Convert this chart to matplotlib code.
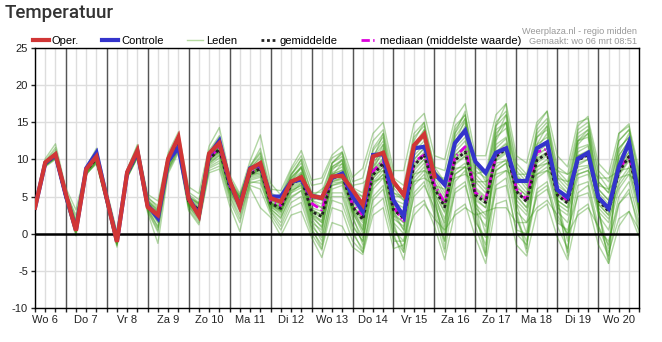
import matplotlib
matplotlib.use("Agg")
import matplotlib.pyplot as plt
import numpy as np
from matplotlib.lines import Line2D

plt.rcParams['font.family'] = ['Liberation Sans', 'DejaVu Sans']
plt.rcParams['axes.unicode_minus'] = False

# 6-hourly values, starting wo 6 mrt 06:00
day_labels = ["Wo 6", "Do 7", "Vr 8", "Za 9", "Zo 10", "Ma 11", "Di 12", "Wo 13",
              "Do 14", "Vr 15", "Za 16", "Zo 17", "Ma 18", "Di 19", "Wo 20"]

oper = [3.5, 9.6, 10.7, 5.4, 0.4, 8.7, 10.4, 4.8, -1.1, 8.3, 11.2, 3.6,
        2.5, 10.1, 13.0, 4.7, 2.4, 10.8, 12.2, 7.2, 3.6, 8.7, 9.5, 4.8,
        4.3, 7.0, 7.6, 5.1, 4.8, 7.7, 7.8, 5.9, 3.9, 10.4, 10.9, 7.0,
        5.2, 11.9, 13.4, 7.7]

controle = [3.5, 9.5, 10.6, 5.2, 0.5, 8.8, 10.9, 4.8, -1.0, 8.2, 11.0, 3.8,
            2.1, 9.8, 11.6, 4.8, 2.5, 10.6, 12.5, 7.0, 3.7, 8.8, 9.3, 5.0,
            5.0, 7.0, 7.3, 5.1, 4.8, 7.5, 8.1, 5.0, 3.0, 10.6, 10.7, 4.5,
            2.3, 11.5, 11.7, 8.1, 6.6, 12.2, 13.9, 9.7, 8.2, 10.9, 11.5, 7.1,
            7.1, 11.5, 12.3, 5.9, 4.9, 10.1, 10.9, 4.9, 3.4, 9.0, 12.3, 4.5]

gemiddelde = [3.6, 9.4, 10.5, 5.0, 0.8, 8.5, 10.1, 4.6, -0.8, 8.0, 10.8, 3.9,
              2.3, 9.5, 12.0, 4.3, 3.2, 10.0, 11.4, 6.3, 4.2, 8.0, 8.8, 4.1,
              3.4, 6.6, 7.5, 3.0, 2.3, 7.5, 7.9, 3.6, 1.9, 7.9, 9.5, 3.2,
              2.1, 9.2, 10.6, 6.1, 3.6, 9.9, 11.0, 5.2, 4.2, 10.4, 11.4, 5.7,
              4.3, 9.9, 10.8, 5.2, 4.1, 9.9, 10.6, 4.5, 3.0, 8.3, 10.4, 4.5]

mediaan = [3.7, 9.5, 10.6, 5.1, 0.7, 8.6, 10.2, 4.6, -0.9, 8.1, 10.9, 3.9,
           2.5, 9.6, 12.1, 4.5, 3.0, 10.2, 11.6, 6.5, 4.0, 8.2, 9.0, 4.3,
           3.8, 6.8, 7.6, 4.1, 3.2, 7.6, 8.0, 3.9, 2.5, 8.4, 9.8, 3.6,
           1.6, 9.7, 10.6, 6.6, 4.1, 10.3, 11.7, 5.5, 4.6, 10.5, 11.8, 6.0,
           4.6, 11.0, 11.4, 5.5, 4.5, 10.0, 10.8, 4.9, 3.4, 8.8, 10.4, 5.3]

# ensemble members (leden)
lid_01 = [3.4, 9.3, 10.8, 5.3, 1.2, 8.6, 10.3, 4.4, -1.0, 7.9, 10.6, 4.2,
          2.0, 9.3, 12.2, 4.5, 3.5, 10.2, 11.8, 6.5, 4.4, 8.2, 9.3, 4.5,
          4.0, 7.2, 8.3, 4.0, 3.5, 8.2, 9.0, 4.8, 3.0, 9.0, 10.8, 4.2,
          3.5, 10.5, 12.0, 7.0, 4.5, 11.0, 12.5, 6.2, 5.0, 11.5, 12.8, 6.5,
          5.0, 11.0, 12.0, 6.0, 5.0, 11.0, 11.8, 5.5, 4.0, 9.5, 11.5, 5.5]
lid_02 = [3.8, 9.6, 10.4, 4.8, 0.2, 8.3, 9.8, 4.9, -0.5, 8.2, 11.2, 3.6,
          3.1, 10.0, 12.6, 4.0, 2.6, 9.6, 10.8, 5.8, 3.5, 7.6, 8.0, 3.6,
          2.8, 5.5, 6.2, 1.5, 0.5, 6.8, 7.0, 2.0, -0.5, 7.0, 8.5, 1.5,
          0.0, 8.0, 9.5, 4.5, 1.5, 8.5, 9.5, 3.5, 2.0, 9.0, 10.0, 4.0,
          2.5, 8.5, 9.5, 3.5, 2.5, 8.5, 9.0, 3.0, 1.5, 7.0, 9.0, 3.0]
lid_03 = [3.5, 9.2, 10.2, 5.6, 2.5, 8.8, 10.9, 5.2, -0.2, 8.4, 11.5, 4.8,
          3.8, 10.6, 13.1, 5.6, 4.6, 11.2, 13.2, 7.2, 5.0, 9.0, 11.5, 6.0,
          5.8, 8.8, 11.2, 7.2, 7.5, 10.6, 11.8, 7.6, 8.8, 13.5, 15.0, 8.5,
          8.5, 14.8, 16.2, 10.5, 10.0, 15.5, 17.5, 10.5, 10.5, 16.0, 17.5, 10.5,
          9.5, 15.0, 16.5, 10.5, 9.0, 15.0, 15.5, 9.5, 8.0, 13.5, 14.5, 8.5]
lid_04 = [3.9, 9.7, 11.3, 4.6, -0.3, 8.1, 9.4, 4.1, -1.6, 7.6, 10.3, 3.1,
          0.5, 8.6, 11.3, 3.6, 1.8, 8.8, 9.5, 5.2, 2.5, 6.8, 7.2, 3.0,
          1.0, 4.2, 5.0, 0.5, -1.5, 4.5, 4.0, 0.0, -2.0, 4.5, 6.0, 0.0,
          -3.5, 3.5, 4.5, 1.0, -3.5, 3.0, 4.0, -0.5, -4.0, 4.0, 4.5, -1.5,
          -3.0, 3.0, 4.0, -0.5, -3.5, 3.0, 4.0, -1.5, -4.0, 1.0, 3.0, -0.5]
lid_05 = [3.6, 9.4, 10.6, 5.1, 0.9, 8.5, 10.2, 4.7, -0.9, 8.0, 10.9, 4.0,
          2.4, 9.6, 12.0, 4.3, 3.3, 10.1, 11.5, 6.3, 4.3, 8.1, 8.9, 4.2,
          3.5, 6.8, 7.8, 3.2, 2.6, 7.8, 8.3, 3.8, 2.0, 8.2, 9.8, 3.4,
          2.5, 9.5, 11.0, 6.3, 3.8, 10.2, 11.4, 5.5, 4.4, 10.6, 11.6, 5.8,
          4.5, 10.2, 11.0, 5.4, 4.3, 10.1, 10.8, 4.7, 3.2, 8.5, 10.6, 4.7]
lid_06 = [4.4, 10.1, 12.1, 6.2, 3.2, 9.0, 11.5, 5.8, 0.3, 8.7, 12.0, 5.3,
          4.4, 10.9, 13.7, 6.3, 5.4, 11.8, 14.3, 7.9, 5.4, 9.8, 13.3, 6.8,
          5.2, 8.5, 10.5, 6.5, 6.8, 10.2, 11.0, 7.0, 7.5, 12.5, 14.0, 7.5,
          6.5, 13.5, 15.0, 9.0, 8.5, 14.5, 16.0, 9.0, 8.0, 15.0, 16.5, 9.5,
          8.0, 14.0, 15.5, 9.0, 8.0, 14.0, 15.0, 8.5, 7.0, 12.5, 14.0, 8.0]
lid_07 = [3.2, 9.1, 10.1, 4.5, 0.0, 8.0, 9.5, 4.0, -1.8, 7.5, 10.2, 2.8,
          -1.3, 8.1, 10.9, 3.1, 1.2, 8.2, 8.7, 3.8, 0.3, 6.2, 3.5, 2.2,
          -0.3, 2.5, 3.0, -0.5, -3.2, 1.5, 1.0, -1.8, -2.8, 2.5, 3.5, -2.0,
          -1.5, 2.5, 4.0, 2.0, 0.5, 2.5, 3.5, 2.5, 3.0, 3.5, 3.5, 1.5,
          1.5, 3.5, 4.5, 2.5, 0.0, 2.5, 3.5, 1.0, -2.5, 2.0, 3.0, 0.5]
lid_08 = [3.7, 9.5, 10.9, 5.4, 1.5, 8.7, 10.6, 4.5, -0.6, 8.3, 11.0, 4.4,
          2.8, 9.8, 12.4, 4.8, 3.8, 10.6, 12.3, 6.8, 4.8, 8.7, 10.4, 5.0,
          4.5, 7.6, 9.0, 4.8, 4.5, 9.0, 9.8, 5.5, 4.0, 10.2, 12.0, 5.0,
          5.0, 12.0, 13.5, 8.0, 5.5, 12.5, 14.0, 7.5, 6.0, 13.0, 14.2, 7.8,
          6.0, 12.0, 13.0, 7.0, 5.5, 12.5, 13.0, 6.0, 4.5, 10.5, 12.5, 6.5]
lid_09 = [3.5, 9.3, 10.3, 4.9, 0.5, 8.4, 10.0, 4.8, -0.7, 7.8, 10.7, 3.7,
          1.8, 9.2, 11.8, 4.1, 3.0, 9.8, 11.0, 6.0, 3.9, 7.8, 8.5, 3.9,
          3.2, 6.4, 7.2, 2.5, 1.5, 7.2, 7.5, 3.0, 1.0, 7.4, 9.0, 2.5,
          1.5, 8.8, 10.0, 5.5, 2.8, 9.3, 10.4, 4.8, 3.5, 9.8, 10.8, 5.2,
          3.5, 9.0, 10.0, 4.5, 3.5, 9.2, 10.0, 4.0, 2.5, 7.8, 9.8, 4.0]
lid_10 = [3.8, 9.6, 10.7, 5.2, 1.0, 8.6, 10.4, 4.3, -1.2, 8.1, 11.3, 4.1,
          2.6, 9.7, 12.3, 4.6, 3.4, 10.4, 11.9, 6.6, 4.6, 8.4, 9.6, 4.4,
          3.8, 7.0, 8.0, 3.5, 3.0, 8.0, 8.6, 4.3, 2.6, 8.6, 10.2, 3.8,
          3.0, 10.0, 11.5, 6.8, 4.2, 10.6, 11.8, 6.0, 4.8, 11.0, 12.0, 6.2,
          5.2, 10.8, 11.5, 5.8, 4.8, 10.5, 11.2, 5.0, 3.6, 9.0, 11.0, 5.0]
lid_11 = [3.3, 9.0, 10.0, 4.7, 0.4, 7.9, 9.7, 4.4, -1.4, 7.7, 10.4, 3.3,
          1.0, 8.8, 11.5, 3.8, 2.2, 9.2, 10.2, 5.5, 3.0, 7.2, 7.6, 3.3,
          2.2, 5.0, 5.8, 1.0, -0.5, 5.5, 5.5, 1.2, -1.0, 6.0, 7.5, 1.0,
          -2.0, 6.5, 8.0, 3.0, -1.0, 7.0, 8.5, 2.0, -1.5, 7.5, 8.5, 2.0,
          -1.0, 6.0, 7.0, 2.0, 0.0, 6.5, 7.0, 1.0, -1.5, 5.0, 7.0, 1.5]
lid_12 = [3.9, 9.8, 11.6, 5.9, 2.0, 8.9, 11.1, 5.4, 0.0, 8.6, 11.8, 5.0,
          3.5, 10.3, 12.9, 5.3, 4.2, 10.9, 12.8, 7.4, 5.2, 9.2, 11.0, 5.5,
          4.8, 8.0, 9.5, 5.5, 5.6, 9.5, 10.4, 6.2, 5.5, 11.2, 13.0, 6.2,
          4.5, 11.5, 13.0, 8.5, 7.0, 13.0, 15.0, 8.5, 7.5, 14.0, 15.0, 8.5,
          7.0, 13.0, 14.0, 8.0, 6.5, 12.5, 13.5, 7.0, 5.5, 11.5, 13.0, 7.0]
lid_13 = [3.6, 9.4, 10.5, 5.0, 0.6, 8.5, 10.1, 4.6, -0.8, 8.0, 10.8, 3.9,
          2.3, 9.5, 11.9, 4.2, 3.1, 9.9, 11.3, 6.2, 4.1, 7.9, 8.7, 4.0,
          3.4, 6.6, 7.4, 2.9, 2.2, 7.4, 7.8, 3.5, 1.8, 7.8, 9.4, 3.1,
          2.0, 9.0, 10.5, 6.0, 3.5, 9.8, 10.8, 5.0, 4.0, 10.2, 11.2, 5.5,
          4.2, 9.8, 10.7, 5.1, 4.0, 9.8, 10.5, 4.4, 2.9, 8.2, 10.3, 4.4]
lid_14 = [3.4, 9.2, 10.4, 4.9, 1.3, 8.3, 9.9, 4.9, -0.3, 8.2, 10.6, 4.5,
          3.0, 9.9, 11.6, 4.9, 4.0, 10.3, 10.9, 6.9, 5.0, 8.5, 9.0, 4.8,
          4.2, 6.0, 6.8, 5.0, 6.0, 7.0, 7.5, 6.5, 6.8, 8.0, 8.5, 6.5,
          6.0, 8.0, 8.5, 7.5, 7.5, 8.8, 9.0, 8.0, 8.5, 9.5, 9.8, 8.0,
          8.0, 9.0, 9.5, 8.5, 8.0, 9.0, 9.2, 7.5, 7.5, 8.5, 8.8, 7.0]
lid_15 = [3.7, 9.5, 10.6, 5.2, 0.8, 8.6, 10.5, 4.2, -1.3, 7.9, 11.1, 3.5,
          1.5, 9.0, 12.1, 3.9, 2.8, 9.7, 11.6, 5.9, 3.7, 7.7, 8.3, 3.7,
          2.5, 6.2, 8.2, 2.0, 0.0, 7.8, 9.5, 2.5, -1.5, 8.5, 11.5, 1.5,
          -2.5, 11.0, 14.0, 5.0, -2.0, 12.0, 15.5, 4.0, -2.5, 13.0, 16.0, 3.0,
          -2.0, 12.0, 14.5, 4.0, -2.5, 12.5, 14.0, 3.0, -3.5, 11.0, 13.5, 2.5]
lid_16 = [3.5, 9.3, 10.2, 4.8, 0.3, 8.2, 9.6, 4.6, -0.9, 8.1, 10.5, 3.8,
          2.1, 9.4, 11.7, 4.0, 3.0, 9.5, 10.6, 6.1, 4.0, 8.0, 8.1, 3.8,
          3.0, 5.8, 6.5, 2.2, 1.0, 6.5, 6.8, 2.8, 0.5, 6.8, 8.0, 2.0,
          1.0, 7.5, 9.0, 5.0, 2.0, 8.0, 9.0, 4.0, 2.5, 8.5, 9.5, 4.5,
          3.0, 8.0, 9.0, 4.0, 3.0, 8.0, 8.5, 3.5, 2.0, 6.5, 8.5, 3.5]
lid_17 = [3.8, 9.7, 11.0, 5.5, 1.8, 8.8, 10.8, 5.0, -0.4, 8.5, 11.6, 4.6,
          3.3, 10.2, 12.8, 5.0, 4.1, 10.8, 12.5, 7.0, 4.9, 8.9, 10.1, 4.9,
          4.4, 7.4, 8.8, 4.5, 4.0, 8.8, 9.4, 5.0, 3.5, 9.6, 11.2, 4.6,
          4.0, 11.0, 12.5, 7.5, 5.0, 11.5, 13.0, 7.0, 5.5, 12.0, 13.0, 7.0,
          5.5, 11.5, 12.5, 6.5, 5.5, 11.5, 12.0, 6.0, 4.5, 10.0, 12.0, 6.0]
lid_18 = [3.4, 9.1, 10.3, 4.6, 0.1, 8.1, 9.8, 3.9, -1.5, 7.6, 10.3, 3.0,
          0.2, 8.4, 11.1, 3.3, 1.5, 8.5, 9.1, 4.5, 1.5, 6.5, 6.0, 2.6,
          0.5, 3.5, 4.2, 0.0, -2.2, 3.5, 3.0, -1.0, -2.5, 3.5, 4.8, -1.0,
          -1.0, 5.0, 6.5, 3.5, 0.0, 5.5, 6.5, 1.5, -0.5, 6.0, 6.5, 0.5,
          0.0, 5.0, 6.0, 1.5, 0.5, 5.0, 5.5, 0.5, -1.0, 4.0, 5.5, 1.0]
lid_19 = [3.6, 9.5, 10.8, 5.1, 1.1, 8.5, 10.3, 4.7, -0.7, 8.0, 10.9, 4.3,
          2.5, 9.6, 12.1, 4.4, 3.3, 10.0, 11.7, 6.4, 4.2, 8.0, 9.2, 4.1,
          3.6, 7.8, 10.0, 3.0, 1.5, 9.5, 11.0, 3.5, 0.5, 10.0, 13.5, 3.0,
          0.5, 12.5, 15.0, 4.5, -1.0, 13.5, 16.5, 3.0, -3.0, 14.5, 17.5, 2.5,
          -2.5, 14.5, 16.5, 5.0, -3.0, 14.5, 15.8, 3.5, -4.0, 13.5, 14.8, 3.0]
lid_20 = [3.5, 9.4, 10.5, 4.9, 0.7, 8.4, 10.0, 4.5, -0.9, 8.0, 10.8, 3.6,
          2.2, 9.4, 12.0, 4.3, 3.2, 10.1, 11.2, 6.3, 4.3, 8.0, 8.8, 4.1,
          3.3, 6.5, 7.6, 3.0, 2.4, 7.6, 8.0, 3.6, 2.0, 8.0, 9.6, 3.3,
          2.2, 9.3, 10.7, 6.1, 3.7, 10.0, 11.1, 5.3, 4.3, 10.5, 11.5, 5.8,
          4.4, 10.0, 10.9, 5.3, 4.2, 10.0, 10.7, 4.6, 3.1, 8.4, 10.5, 4.6]
lid_21 = [3.6, 9.5, 10.7, 5.3, 1.4, 8.6, 10.4, 4.8, -0.6, 8.1, 11.0, 4.1,
          2.7, 9.8, 12.5, 4.7, 3.6, 10.5, 12.0, 6.7, 4.6, 8.5, 9.8, 4.6,
          4.0, 7.5, 9.0, 4.5, 3.5, 9.0, 10.0, 5.0, 3.5, 10.5, 12.5, 5.5,
          4.5, 12.0, 14.0, 8.5, 6.5, 13.5, 15.5, 8.0, 6.5, 13.5, 15.0, 8.0,
          6.5, 13.0, 14.5, 7.5, 6.0, 13.0, 14.0, 7.0, 5.5, 11.5, 13.0, 6.5]
lid_22 = [3.5, 9.3, 10.4, 4.9, 0.6, 8.4, 10.0, 4.5, -1.0, 7.9, 10.7, 3.7,
          1.6, 9.1, 11.6, 3.9, 2.5, 9.4, 10.5, 5.6, 3.4, 7.4, 7.8, 3.4,
          2.0, 5.5, 6.8, 1.5, -1.0, 6.0, 6.5, 1.0, -1.0, 6.5, 8.0, 0.5,
          -1.0, 7.0, 8.5, 4.0, 0.5, 8.0, 9.0, 3.0, 1.0, 8.5, 9.5, 3.0,
          1.5, 7.5, 8.5, 3.0, 1.5, 7.5, 8.0, 2.5, 0.5, 6.0, 8.0, 2.5]
lid_23 = [3.7, 9.6, 10.9, 5.4, 1.6, 8.7, 10.6, 4.9, -0.5, 8.3, 11.2, 4.3,
          3.2, 10.1, 12.9, 5.0, 4.0, 10.9, 13.0, 7.0, 4.8, 9.0, 10.8, 5.2,
          5.0, 8.0, 10.0, 5.5, 5.0, 9.5, 10.8, 6.0, 5.0, 11.5, 13.5, 6.5,
          5.5, 13.0, 14.5, 9.0, 7.0, 14.0, 16.0, 9.5, 7.0, 14.5, 16.0, 9.0,
          7.5, 13.5, 15.0, 8.5, 7.0, 13.5, 14.5, 8.0, 6.0, 12.5, 14.0, 7.5]
lid_24 = [3.4, 9.2, 10.2, 4.7, 0.2, 8.2, 9.7, 4.3, -1.3, 7.7, 10.5, 3.4,
          0.8, 8.7, 11.4, 3.7, 2.0, 9.0, 9.8, 5.0, 2.0, 7.0, 6.8, 3.1,
          1.5, 4.8, 5.8, 0.8, -2.0, 5.0, 5.0, 0.5, -2.5, 5.0, 6.5, -0.5,
          -2.5, 5.5, 7.0, 2.5, -2.5, 6.0, 7.0, 1.0, -3.0, 6.5, 7.5, 0.0,
          -1.5, 5.5, 6.5, 1.0, -2.0, 5.5, 6.5, 0.0, -3.0, 4.0, 6.0, 0.0]
lid_25 = [3.6, 9.4, 10.6, 5.0, 0.9, 8.5, 10.2, 4.6, -0.8, 8.0, 10.9, 3.9,
          2.4, 9.5, 12.2, 4.4, 3.3, 10.2, 11.6, 6.4, 4.2, 8.1, 9.0, 4.2,
          3.6, 6.9, 8.0, 3.3, 2.5, 8.0, 8.5, 3.8, 2.2, 8.5, 10.0, 3.5,
          2.5, 10.0, 11.5, 6.5, 4.0, 10.5, 11.8, 5.8, 4.5, 11.0, 12.2, 6.0,
          4.5, 10.5, 11.5, 5.5, 4.5, 10.5, 11.0, 5.0, 3.5, 9.0, 11.0, 5.0]
lid_26 = [3.5, 9.4, 10.5, 5.1, 1.0, 8.5, 10.1, 4.7, -0.8, 8.1, 10.8, 4.0,
          2.2, 9.4, 11.9, 4.2, 3.1, 9.9, 11.2, 6.2, 4.1, 7.9, 8.6, 4.0,
          3.8, 5.8, 6.5, 4.5, 5.0, 6.5, 7.0, 5.5, 5.0, 7.0, 7.5, 5.5,
          5.0, 7.0, 7.5, 6.5, 6.0, 7.5, 8.0, 7.0, 7.0, 8.0, 8.5, 7.5,
          7.0, 8.0, 8.5, 7.5, 7.0, 8.0, 8.5, 6.5, 6.0, 7.5, 8.0, 6.5]
lid_27 = [3.7, 9.5, 10.7, 5.1, 0.8, 8.6, 10.3, 4.6, -0.9, 8.1, 10.9, 3.9,
          2.0, 9.3, 12.3, 4.1, 2.9, 9.9, 11.8, 6.0, 3.8, 7.9, 9.1, 3.9,
          3.0, 7.0, 9.0, 2.5, 0.8, 8.5, 10.0, 3.0, 0.0, 9.0, 12.0, 2.5,
          0.5, 11.5, 13.5, 5.5, 1.0, 12.0, 14.5, 4.5, 0.0, 12.5, 15.0, 4.0,
          0.0, 11.5, 13.5, 4.5, -1.0, 12.0, 13.5, 3.0, -2.0, 10.5, 12.5, 3.0]
lid_28 = [3.5, 9.3, 10.4, 4.9, 0.7, 8.4, 10.0, 4.5, -0.8, 8.0, 10.7, 3.8,
          2.3, 9.5, 11.8, 4.2, 3.2, 9.9, 11.1, 6.2, 4.2, 8.0, 8.6, 4.1,
          3.1, 6.2, 7.0, 2.6, 1.8, 7.0, 7.3, 3.2, 1.5, 7.5, 9.0, 2.8,
          1.5, 8.5, 10.0, 5.5, 3.0, 9.5, 10.5, 4.5, 3.5, 10.0, 11.0, 5.0,
          3.5, 9.5, 10.5, 4.5, 3.5, 9.5, 10.0, 4.0, 2.5, 8.0, 10.0, 4.0]

leden = [lid_01, lid_02, lid_03, lid_04, lid_05, lid_06, lid_07, lid_08, lid_09, lid_10,
         lid_11, lid_12, lid_13, lid_14, lid_15, lid_16, lid_17, lid_18, lid_19, lid_20,
         lid_21, lid_22, lid_23, lid_24, lid_25, lid_26, lid_27, lid_28]

RED = '#d13636'
BLUE = '#3434cc'
GREEN = '#3f9b1c'
MAGENTA = '#dd00dd'

W, H = 662, 342
fig = plt.figure(figsize=(W / 100, H / 100), dpi=100)
ax = fig.add_axes([35 / W, 34 / H, 604.3 / W, 260 / H])

n = len(gemiddelde)
x = np.arange(n)

ax.set_xlim(0, n - 1)
ax.set_ylim(-10, 25)
ax.set_yticks(range(-10, 26, 5))

# grid: thin lines every 6 hours, darker ones at midnight
ax.set_xticks(x)
labels = [''] * n
for k, lab in enumerate(day_labels):
    labels[1 + 4 * k] = lab
ax.set_xticklabels(labels)
ax.grid(True, color='#dddddd', lw=1, zorder=0)
ax.set_axisbelow(True)
for d in range(3, n - 1, 4):
    ax.axvline(d, color='#555555', lw=1, zorder=1)

for s in ax.spines.values():
    s.set_color('black')
    s.set_linewidth(1)

ax.tick_params(axis='x', length=3, width=1, pad=2, labelsize=8, colors='#222222')
ax.tick_params(axis='y', length=3, width=1, pad=2, labelsize=8, colors='#222222')

for lid in leden:
    ax.plot(x, lid, color=GREEN, lw=1, alpha=0.4, zorder=2)

ax.axhline(0, color='black', lw=1.8, zorder=3)

ax.plot(x, mediaan, color=MAGENTA, lw=2, dashes=(3, 1.2, 0.5, 1.2), zorder=4)
ax.plot(x, gemiddelde, color='#222222', lw=2, dashes=(1, 1), zorder=5)
ax.plot(np.arange(len(controle)), controle, color=BLUE, lw=3, zorder=6,
        solid_joinstyle='miter')
ax.plot(np.arange(len(oper)), oper, color=RED, lw=3, zorder=7,
        solid_joinstyle='miter')

handles = [
    Line2D([], [], color=RED, lw=3),
    Line2D([], [], color=BLUE, lw=3),
    Line2D([], [], color='#b5daa0', lw=1),
    Line2D([], [], color='#222222', lw=2, dashes=(1, 1)),
    Line2D([], [], color=MAGENTA, lw=2, dashes=(3, 1.2, 0.5, 1.2)),
]
names = ["Oper.", "Controle", "Leden", "gemiddelde", "mediaan (middelste waarde)"]
fig.legend(handles, names, loc='center left', bbox_to_anchor=(33 / W, 1 - 41 / H),
           ncol=5, frameon=False, fontsize=8, borderpad=0, borderaxespad=0,
           handlelength=1.4, handletextpad=0.3, columnspacing=2.1)

fig.text(5 / W, 1 - 13 / H, "Temperatuur", fontsize=13.5, color='#333333',
         va='center', ha='left', family=['Roboto', 'Liberation Sans'],
         fontweight='medium')
fig.text(637 / W, 1 - 32 / H, "Weerplaza.nl - regio midden", fontsize=6.6,
         color='#999999', ha='right', va='center')
fig.text(637 / W, 1 - 42 / H, "Gemaakt: wo 06 mrt 08:51", fontsize=6.6,
         color='#999999', ha='right', va='center')

fig.savefig("out.png", dpi=100)
